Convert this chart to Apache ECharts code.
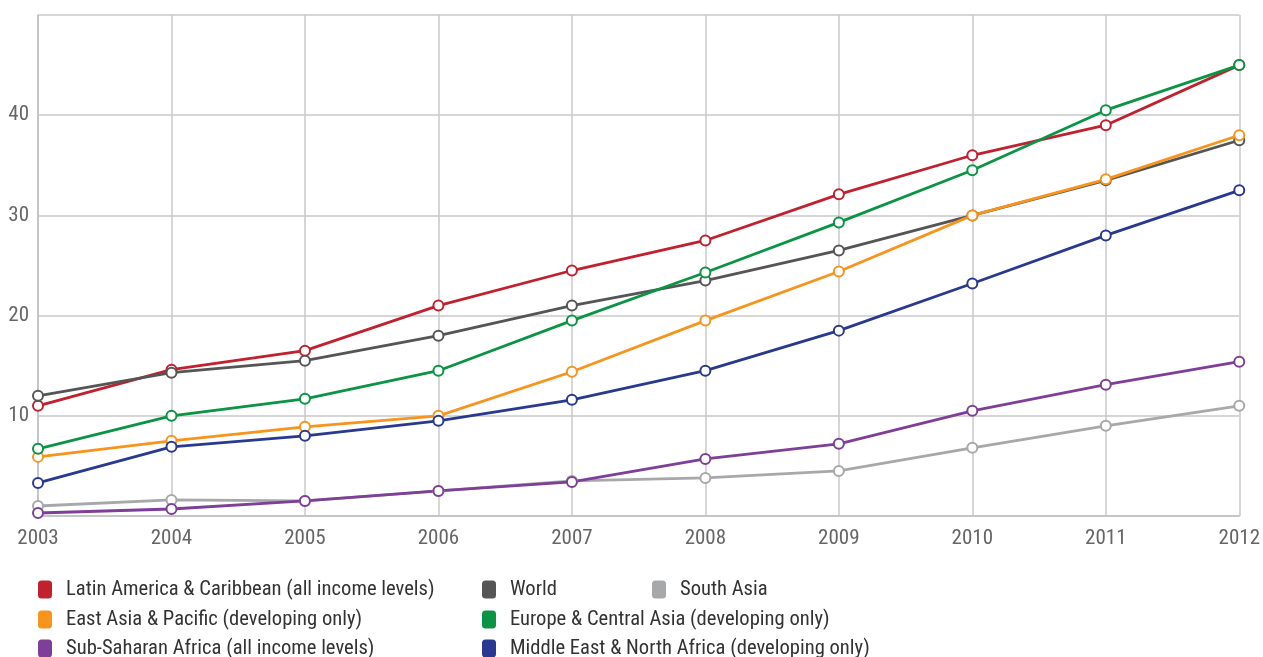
<!DOCTYPE html>
<html>
<head>
<meta charset="utf-8">
<script src="https://cdn.jsdelivr.net/npm/echarts@6/dist/echarts.min.js"></script>
<style>
  html, body { margin: 0; padding: 0; background: #fff; }
  #main { width: 1263px; height: 657px; }
</style>
</head>
<body>
<div id="main"></div>
<script>
var years = ['2003', '2004', '2005', '2006', '2007', '2008', '2009', '2010', '2011', '2012'];

var latinAmerica = [11.0, 14.6, 16.5, 21.0, 24.5, 27.5, 32.1, 36.0, 39.0, 45.0];
var world = [12.0, 14.3, 15.5, 18.0, 21.0, 23.5, 26.5, 30.0, 33.5, 37.5];
var southAsia = [1.0, 1.6, 1.5, 2.5, 3.5, 3.8, 4.5, 6.8, 9.0, 11.0];
var eastAsia = [5.9, 7.5, 8.9, 10.0, 14.4, 19.5, 24.4, 30.0, 33.6, 38.0];
var europe = [6.7, 10.0, 11.7, 14.5, 19.5, 24.3, 29.3, 34.5, 40.5, 45.0];
var subSaharan = [0.3, 0.7, 1.5, 2.5, 3.4, 5.7, 7.2, 10.5, 13.1, 15.4];
var middleEast = [3.3, 6.9, 8.0, 9.5, 11.6, 14.5, 18.5, 23.2, 28.0, 32.5];

var seriesNames = [
  'Latin America & Caribbean (all income levels)',
  'World',
  'South Asia',
  'East Asia & Pacific (developing only)',
  'Europe & Central Asia (developing only)',
  'Sub-Saharan Africa (all income levels)',
  'Middle East & North Africa (developing only)'
];
var seriesData = [latinAmerica, world, southAsia, eastAsia, europe, subSaharan, middleEast];
var colors = ['#c1202f', '#555555', '#a7a8aa', '#f7941d', '#0b9444', '#7d3f98', '#29398f'];

var font = "'Liberation Sans Narrow', 'Roboto Condensed', Roboto, sans-serif";

var chart = echarts.init(document.getElementById('main'));

// legend slots: [left, top]
var legendPos = [
  [38, 579], [482, 579], [652, 579],
  [38, 609], [482, 609],
  [38, 638], [482, 638]
];

var legends = [];
for (var i = 0; i < seriesNames.length; i++) {
  legends.push({
    data: [seriesNames[i]],
    left: legendPos[i][0],
    top: legendPos[i][1],
    icon: 'roundRect',
    itemWidth: 14,
    itemHeight: 18,
    itemGap: 0,
    padding: 0,
    textStyle: { fontFamily: font, fontSize: 20.6, color: '#333', padding: [0, 0, 0, 9] }
  });
}

var series = [];
for (var j = 0; j < seriesNames.length; j++) {
  series.push({
    name: seriesNames[j],
    type: 'line',
    data: seriesData[j],
    symbol: 'emptyCircle',
    symbolSize: 10,
    lineStyle: { width: 2.8, color: colors[j] },
    itemStyle: { color: colors[j], borderWidth: 2.6 },
    emphasis: { disabled: true },
    z: 2
  });
}

chart.setOption({
  animation: false,
  color: colors,
  legend: legends,
  grid: { left: 38, right: 21, top: 15, bottom: 141, containLabel: false },
  xAxis: {
    type: 'category',
    data: years,
    boundaryGap: false,
    axisLine: { lineStyle: { color: '#c0c0c0', width: 1.5 } },
    axisTick: { show: false },
    splitLine: { show: true, lineStyle: { color: '#c8c8c8', width: 1.5 } },
    axisLabel: { fontFamily: font, fontSize: 21, color: '#666', margin: 12 }
  },
  yAxis: {
    type: 'value',
    min: 0,
    max: 50,
    interval: 10,
    axisLine: { show: true, lineStyle: { color: '#c0c0c0', width: 1.5 } },
    axisTick: { show: false },
    splitLine: { show: true, lineStyle: { color: '#c8c8c8', width: 1.5 } },
    axisLabel: {
      fontFamily: font,
      fontSize: 21,
      color: '#666',
      margin: 9,
      padding: [0, 0, 14, 0],
      formatter: function (v) { return (v === 0 || v === 50) ? '' : String(v); }
    }
  },
  series: series
});
</script>
</body>
</html>
